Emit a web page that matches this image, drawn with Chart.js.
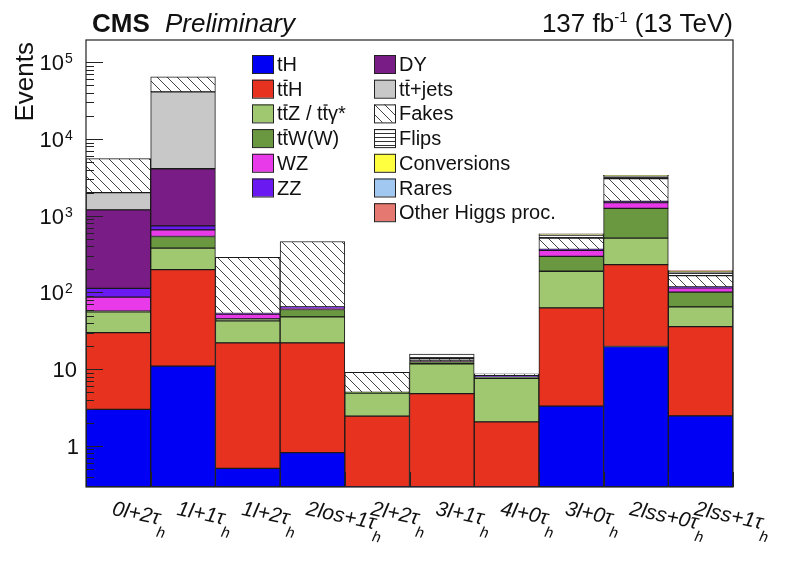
<!DOCTYPE html>
<html>
<head>
<meta charset="utf-8">
<script src="https://cdn.jsdelivr.net/npm/chart.js@4/dist/chart.umd.min.js"></script>
<style>
  html, body { margin: 0; padding: 0; background: #fff; }
  #wrap { width: 800px; height: 565px; }
</style>
</head>
<body>
<div id="wrap"><canvas id="chart" width="800" height="565"></canvas></div>
<script>
// Categories (bins), "_" marks the subscript
const categories = ["0l+2τ_h", "1l+1τ_h", "1l+2τ_h", "2los+1τ_h", "2l+2τ_h",
  "3l+1τ_h", "4l+0τ_h", "3l+0τ_h", "2lss+0τ_h", "2lss+1τ_h"];

// Process names (stack order, bottom first)
const processNames = ["tH", "tt\u0304H", "tt\u0304Z / tt\u0304γ*", "tt\u0304W(W)", "WZ", "ZZ",
  "DY", "tt\u0304+jets", "Fakes", "Flips", "Conversions", "Rares", "Other Higgs proc."];

// Expected events per process and bin
const tH          = [3.0, 11, 0.51, 0.82, 0, 0, 0, 3.3, 19.8, 2.47];
const ttH         = [27, 188, 21.5, 21.2, 2.45, 4.8, 2.06, 59.7, 211, 33.5];
const ttZ         = [26, 180, 20.7, 26, 2.45, 7.0, 5.54, 126, 279, 29];
const ttW         = [1, 158, 2.5, 12, 0.1, 0.8, 0.3, 107, 740, 36];
const WZ          = [30, 118, 7, 2, 0, 0.2, 0, 58, 230, 14];
const ZZ          = [26, 83, 1, 3, 0, 0, 0.4, 10, 60, 3];
const DY          = [1080, 3360, 0, 0, 0, 0, 0, 0, 0, 0];
const ttjets      = [810, 37000, 0, 0, 0, 0, 0, 0, 0, 0];
const fakes       = [3550, 23700, 234, 397, 4.1, 0.9, 0.4, 146, 1510, 48];
const flips       = [0, 0, 0, 0, 0, 2.0, 0, 50, 260, 20];
const conversions = [0, 0, 0, 0, 0, 0, 0, 10, 30, 3];
const rares       = [0, 0, 0, 0, 0, 0, 0, 8, 25, 3];
const otherHiggs  = [0, 0, 0, 0, 0, 0, 0, 2, 5, 1];

const series = [tH, ttH, ttZ, ttW, WZ, ZZ, DY, ttjets, fakes, flips, conversions, rares, otherHiggs];

// Y axis decades that get a label
const yDecades = [1, 10, 100, 1000, 10000, 100000];

// Colours
const processColors = ["#0000f5", "#e6321f", "#a0c870", "#6a9840", "#e83ae8", "#6a1af0",
  "#7a1c86", "#c8c8c8", "hatchDiag", "hatchHoriz", "#ffff40", "#a0c8f0", "#e57870"];

const FONT = '"Liberation Sans", Arial, Helvetica, sans-serif';

// Hatch patterns
function makePattern(kind) {
  const c = document.createElement("canvas");
  const ctx = c.getContext("2d");
  if (kind === "hatchDiag") {
    c.width = c.height = 10;
    ctx.fillStyle = "#fff";
    ctx.fillRect(0, 0, 10, 10);
    ctx.strokeStyle = "#444";
    ctx.lineWidth = 1;
    ctx.beginPath();
    ctx.moveTo(-1, -1); ctx.lineTo(11, 11);
    ctx.moveTo(-1, 9); ctx.lineTo(1, 11);
    ctx.moveTo(9, -1); ctx.lineTo(11, 1);
    ctx.stroke();
  } else {
    c.width = c.height = 4;
    ctx.fillStyle = "#fff";
    ctx.fillRect(0, 0, 4, 4);
    ctx.fillStyle = "#333";
    ctx.fillRect(0, 1, 4, 1);
  }
  return document.getElementById("chart").getContext("2d").createPattern(c, "repeat");
}

const fills = processColors.map((c) => (c.startsWith("hatch") ? makePattern(c) : c));

// Draw text where a combining macron puts a bar over the previous letter
function drawRich(ctx, text, x, y, size) {
  let cx = x;
  for (let i = 0; i < text.length; i++) {
    const ch = text[i];
    if (ch === "\u0304") continue;
    const w = ctx.measureText(ch).width;
    ctx.fillText(ch, cx, y);
    if (text[i + 1] === "\u0304") {
      ctx.fillRect(cx + 1, y - size * 0.8, w - 1.5, 1.3);
    }
    cx += w;
  }
  return cx - x;
}

// Decorations: frame, ticks, labels, legend, header
const decor = {
  id: "decor",
  afterDatasetsDraw(chart) {
    const { ctx, chartArea: a } = chart;
    const xs = chart.scales.x;
    const ys = chart.scales.y;
    ctx.save();

    // frame
    ctx.strokeStyle = "#222";
    ctx.lineWidth = 1.2;
    ctx.strokeRect(a.left, a.top, a.right - a.left, a.bottom - a.top);

    // y ticks (inward)
    ctx.lineWidth = 1;
    ctx.beginPath();
    for (let d = 0.1; d <= 1e5; d *= 10) {
      for (let m = 1; m <= 9; m++) {
        const v = d * m;
        if (v < ys.min || v > ys.max) continue;
        const py = Math.round(ys.getPixelForValue(v)) + 0.5;
        const len = m === 1 ? 17 : 8;
        ctx.moveTo(a.left, py);
        ctx.lineTo(a.left + len, py);
      }
    }
    // x ticks at bin edges
    const half = (xs.getPixelForValue(1) - xs.getPixelForValue(0)) / 2;
    for (let i = 0; i < categories.length; i++) {
      const ex = Math.round(xs.getPixelForValue(i) + half);
      ctx.moveTo(ex + 0.5, a.bottom);
      ctx.lineTo(ex + 0.5, a.bottom - 15);
    }
    ctx.stroke();

    // y tick labels
    ctx.fillStyle = "#111";
    ctx.textBaseline = "alphabetic";
    yDecades.forEach((v) => {
      const py = ys.getPixelForValue(v);
      ctx.font = `22px ${FONT}`;
      ctx.textAlign = "right";
      if (v === 1) {
        ctx.fillText("1", 79, py + 8);
      } else if (v === 10) {
        ctx.fillText("10", 77, py + 8);
      } else {
        ctx.fillText("10", 64, py + 8);
        ctx.font = `14px ${FONT}`;
        ctx.textAlign = "left";
        ctx.fillText(String(Math.round(Math.log10(v))), 65, py + 1);
      }
    });

    // y title
    ctx.save();
    ctx.translate(33, 42);
    ctx.rotate(-Math.PI / 2);
    ctx.font = `26px ${FONT}`;
    ctx.textAlign = "right";
    ctx.fillText("Events", 0, 0);
    ctx.restore();

    // x labels, rotated
    categories.forEach((lab, i) => {
      const [main, sub] = lab.split("_");
      const cx = xs.getPixelForValue(i);
      ctx.save();
      ctx.translate(cx - 4, 500);
      ctx.rotate(12 * Math.PI / 180);
      ctx.textAlign = "left";
      ctx.font = `italic 21px ${FONT}`;
      ctx.fillText(main, 0, 15);
      const w = ctx.measureText(main).width;
      ctx.font = `italic 15px ${FONT}`;
      ctx.fillText(sub, w, 27);
      ctx.restore();
    });

    // legend
    ctx.font = `20px ${FONT}`;
    ctx.textAlign = "left";
    chart.data.datasets.forEach((ds, k) => {
      const col = k < 6 ? 0 : 1;
      const row = k < 6 ? k : k - 6;
      const bx = col === 0 ? 252 : 374;
      const by = 55 + row * 24.7;
      ctx.fillStyle = fills[k];
      ctx.fillRect(bx, by, 21, 18);
      ctx.strokeStyle = "#222";
      ctx.lineWidth = 1;
      ctx.strokeRect(bx + 0.5, by + 0.5, 21, 18);
      ctx.fillStyle = "#111";
      drawRich(ctx, ds.label, bx + 25, by + 16, 20);
    });

    // header
    ctx.fillStyle = "#111";
    ctx.textAlign = "left";
    ctx.font = `bold 26px ${FONT}`;
    ctx.fillText("CMS", 92, 32);
    ctx.font = `italic 26px ${FONT}`;
    ctx.fillText("Preliminary", 165, 32);

    const partA = "137 fb", partC = " (13 TeV)";
    ctx.font = `26px ${FONT}`;
    const wA = ctx.measureText(partA).width;
    const wC = ctx.measureText(partC).width;
    ctx.font = `15px ${FONT}`;
    const wB = ctx.measureText("-1").width;
    const hx = a.right - (wA + wB + wC);
    ctx.font = `26px ${FONT}`;
    ctx.fillText(partA, hx, 32);
    ctx.font = `15px ${FONT}`;
    ctx.fillText("-1", hx + wA, 22);
    ctx.font = `26px ${FONT}`;
    ctx.fillText(partC, hx + wA + wB, 32);

    ctx.restore();
  },
};

new Chart(document.getElementById("chart"), {
  type: "bar",
  data: {
    labels: categories,
    datasets: processNames.map((name, k) => ({
      label: name,
      data: series[k],
      backgroundColor: fills[k],
      borderColor: "#1a1a1a",
      borderWidth: (c) => (c.raw > 0 ? 1 : 0),
      borderSkipped: false,
      barPercentage: 1,
      categoryPercentage: 1,
      stack: "all",
    })),
  },
  options: {
    responsive: false,
    animation: false,
    devicePixelRatio: 1,
    layout: { padding: { left: 86, right: 67, top: 40, bottom: 78 } },
    plugins: { legend: { display: false }, tooltip: { enabled: false } },
    scales: {
      x: { stacked: true, display: false },
      y: { type: "logarithmic", stacked: true, display: false, min: 0.292, max: 195000 },
    },
  },
  plugins: [decor],
});
</script>
</body>
</html>
